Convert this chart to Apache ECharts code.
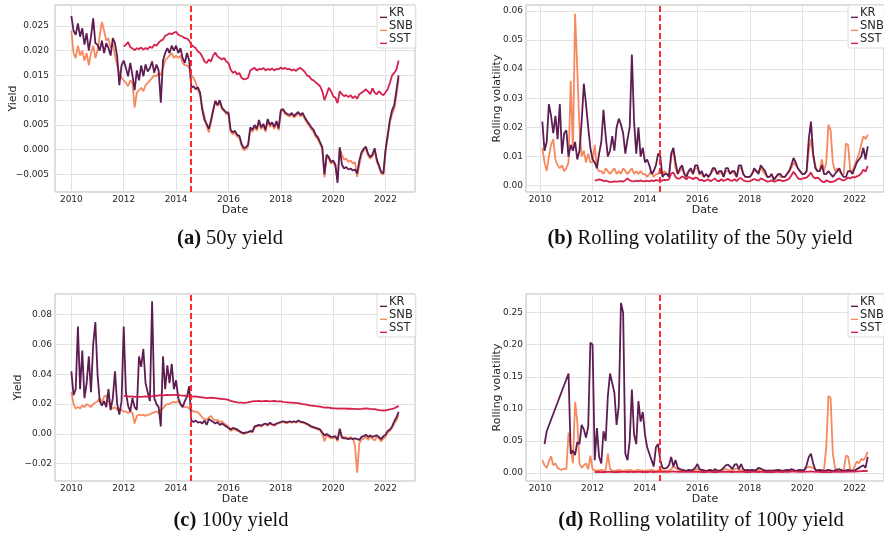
<!DOCTYPE html>
<html><head><meta charset="utf-8">
<script src="https://cdn.jsdelivr.net/npm/echarts@6/dist/echarts.min.js"></script>
<style>html,body{margin:0;padding:0;background:#fff}#c{width:884px;height:543px}</style>
</head><body><div id="c"></div>
<script>
// Monthly samples, January 2010 .. July 2022 (151 points)
const START_YEAR = 2010;
const N = 151;
const BREAK_YEAR = 2014.55;
const YEAR_TICKS = [2010, 2012, 2014, 2016, 2018, 2020, 2022];
const Y_TICKS_A = [-0.005, 0, 0.005, 0.01, 0.015, 0.02, 0.025];
const Y_TICKS_B = [0, 0.01, 0.02, 0.03, 0.04, 0.05, 0.06];
const Y_TICKS_C = [-0.02, 0, 0.02, 0.04, 0.06, 0.08];
const Y_TICKS_D = [0, 0.05, 0.1, 0.15, 0.2, 0.25];
const NAMES = ['KR', 'SNB', 'SST'];
const COLORS = ['#5e1d52', '#f6895e', '#d6204c'];

// (a) 50y yield
const KR_50Y = [
0.0270,0.0240,0.0232,0.0255,0.0228,0.0245,0.0212,0.0235,0.0200,0.0228,0.0265,0.0215,
0.0212,0.0200,0.0220,0.0195,0.0215,0.0205,0.0190,0.0225,0.0215,0.0188,0.0130,0.0170,
0.0180,0.0165,0.0148,0.0175,0.0150,0.0120,0.0160,0.0140,0.0170,0.0148,0.0172,0.0158,
0.0165,0.0178,0.0155,0.0172,0.0160,0.0095,0.0180,0.0195,0.0205,0.0195,0.0210,0.0200,
0.0210,0.0195,0.0205,0.0185,0.0175,0.0195,0.0180,0.0125,0.0128,0.0122,0.0126,0.0115,
0.0080,0.0060,0.0052,0.0042,0.0060,0.0080,0.0098,0.0090,0.0100,0.0085,0.0080,0.0075,
0.0075,0.0040,0.0035,0.0038,0.0030,0.0028,0.0012,0.0003,0.0005,0.0010,0.0045,0.0040,
0.0050,0.0042,0.0060,0.0045,0.0052,0.0040,0.0062,0.0050,0.0055,0.0046,0.0058,0.0043,
0.0080,0.0082,0.0075,0.0072,0.0070,0.0074,0.0068,0.0072,0.0076,0.0070,0.0074,0.0065,
0.0058,0.0052,0.0045,0.0040,0.0030,0.0025,0.0015,0.0005,-0.0050,-0.0010,-0.0015,-0.0025,
-0.0022,-0.0030,-0.0067,0.0005,-0.0030,-0.0038,-0.0035,-0.0040,-0.0038,-0.0042,-0.0040,-0.0048,
-0.0022,-0.0005,0.0002,0.0006,-0.0008,-0.0015,-0.0010,0.0003,-0.0020,-0.0032,-0.0045,-0.0048,
0.0000,0.0030,0.0060,0.0080,0.0090,0.0120,0.0150];
const SNB_50Y = [
0.0240,0.0195,0.0185,0.0210,0.0190,0.0200,0.0180,0.0195,0.0170,0.0195,0.0210,0.0185,
0.0200,0.0230,0.0258,0.0240,0.0220,0.0225,0.0205,0.0215,0.0190,0.0170,0.0155,0.0145,
0.0140,0.0135,0.0128,0.0140,0.0135,0.0085,0.0115,0.0120,0.0125,0.0118,0.0130,0.0135,
0.0140,0.0145,0.0150,0.0148,0.0155,0.0150,0.0165,0.0180,0.0185,0.0190,0.0195,0.0185,
0.0190,0.0185,0.0190,0.0175,0.0170,0.0170,0.0165,0.0150,0.0145,0.0135,0.0120,0.0110,
0.0085,0.0068,0.0048,0.0035,0.0055,0.0078,0.0100,0.0088,0.0095,0.0082,0.0078,0.0072,
0.0072,0.0036,0.0031,0.0034,0.0026,0.0024,0.0008,-0.0001,0.0001,0.0006,0.0040,0.0036,
0.0046,0.0038,0.0056,0.0041,0.0048,0.0036,0.0058,0.0046,0.0051,0.0042,0.0054,0.0039,
0.0077,0.0079,0.0072,0.0069,0.0067,0.0071,0.0065,0.0069,0.0073,0.0067,0.0071,0.0062,
0.0054,0.0048,0.0041,0.0036,0.0026,0.0021,0.0011,0.0001,-0.0056,-0.0014,-0.0019,-0.0028,
-0.0025,-0.0033,-0.0060,0.0002,-0.0010,-0.0020,-0.0018,-0.0025,-0.0022,-0.0028,-0.0025,-0.0055,
-0.0030,-0.0010,-0.0002,0.0002,-0.0012,-0.0018,-0.0014,-0.0001,-0.0024,-0.0036,-0.0048,-0.0050,
-0.0005,0.0025,0.0055,0.0072,0.0082,0.0110,0.0145];
const SST_50Y = [
null,null,null,null,null,null,null,null,null,null,null,null,
null,null,null,null,null,null,null,null,null,null,null,null,
0.0208,0.0212,0.0217,0.0207,0.0204,0.0201,0.0205,0.0203,0.0206,0.0202,0.0205,0.0203,
0.0208,0.0205,0.0212,0.0210,0.0216,0.0220,0.0222,0.0230,0.0232,0.0235,0.0233,0.0236,
0.0238,0.0232,0.0230,0.0228,0.0225,0.0224,0.0220,0.0212,0.0208,0.0205,0.0198,0.0195,
0.0188,0.0178,0.0175,0.0182,0.0178,0.0190,0.0196,0.0188,0.0185,0.0182,0.0185,0.0178,
0.0175,0.0162,0.0155,0.0158,0.0152,0.0155,0.0145,0.0142,0.0143,0.0145,0.0160,0.0163,
0.0165,0.0160,0.0163,0.0162,0.0165,0.0160,0.0163,0.0161,0.0164,0.0160,0.0163,0.0162,
0.0166,0.0163,0.0165,0.0162,0.0163,0.0160,0.0162,0.0159,0.0163,0.0165,0.0161,0.0157,
0.0150,0.0148,0.0142,0.0140,0.0136,0.0132,0.0128,0.0118,0.0100,0.0112,0.0125,0.0118,
0.0108,0.0105,0.0094,0.0118,0.0112,0.0108,0.0110,0.0106,0.0110,0.0104,0.0108,0.0103,
0.0112,0.0115,0.0118,0.0122,0.0117,0.0112,0.0124,0.0115,0.0112,0.0118,0.0113,0.0110,
0.0116,0.0122,0.0135,0.0150,0.0155,0.0162,0.0180];

// (b) rolling volatility of the 50y yield
const KR_VOL50 = [
null,0.022,0.012,0.015,0.028,0.024,0.018,0.024,0.016,0.028,0.011,0.018,
0.019,0.010,0.014,0.012,0.015,0.009,0.012,0.022,0.035,0.028,0.020,0.013,
0.009,0.008,0.006,0.011,0.015,0.026,0.017,0.010,0.012,0.017,0.012,0.020,
0.023,0.021,0.018,0.011,0.016,0.020,0.045,0.022,0.011,0.020,0.010,0.013,
0.008,0.009,0.007,0.004,0.005,0.007,0.011,0.010,0.003,0.004,0.004,0.003,
0.011,0.013,0.008,0.004,0.006,0.007,0.004,0.003,0.005,0.006,0.004,0.007,
0.007,0.004,0.005,0.003,0.004,0.003,0.004,0.006,0.006,0.004,0.005,0.005,
0.003,0.006,0.006,0.004,0.005,0.005,0.003,0.007,0.007,0.004,0.003,0.003,
0.003,0.004,0.006,0.005,0.004,0.007,0.006,0.005,0.003,0.003,0.004,0.002,
0.003,0.004,0.004,0.003,0.003,0.004,0.005,0.007,0.0095,0.008,0.006,0.005,
0.004,0.004,0.005,0.016,0.022,0.011,0.006,0.005,0.005,0.007,0.004,0.004,
0.005,0.004,0.003,0.004,0.005,0.006,0.004,0.003,0.003,0.005,0.005,0.004,
0.006,0.008,0.009,0.010,0.013,0.009,0.0135];
const SNB_VOL50 = [
null,0.013,0.008,0.005,0.010,0.014,0.016,0.009,0.007,0.006,0.007,0.005,
0.006,0.008,0.036,0.012,0.059,0.040,0.020,0.010,0.012,0.008,0.011,0.008,
0.008,0.014,0.006,0.005,0.005,0.004,0.006,0.005,0.004,0.005,0.006,0.004,
0.005,0.004,0.006,0.005,0.004,0.005,0.006,0.004,0.005,0.004,0.005,0.004,
0.004,0.003,0.004,0.005,0.003,0.004,0.004,0.006,0.004,0.005,0.004,0.004,
0.010,0.012,0.006,0.004,0.005,0.006,0.004,0.004,0.005,0.005,0.004,0.006,
0.006,0.004,0.004,0.003,0.004,0.003,0.004,0.005,0.006,0.004,0.004,0.005,
0.003,0.005,0.005,0.004,0.005,0.004,0.003,0.006,0.006,0.004,0.003,0.003,
0.003,0.004,0.005,0.005,0.005,0.006,0.005,0.004,0.003,0.003,0.004,0.002,
0.003,0.004,0.003,0.003,0.003,0.004,0.005,0.006,0.008,0.007,0.006,0.005,
0.004,0.004,0.005,0.012,0.016,0.010,0.007,0.005,0.005,0.009,0.005,0.008,
0.021,0.019,0.008,0.005,0.006,0.005,0.004,0.004,0.0145,0.014,0.005,0.005,
0.007,0.009,0.011,0.014,0.017,0.016,0.0175];
const SST_VOL50 = [
null,null,null,null,null,null,null,null,null,null,null,null,
null,null,null,null,null,null,null,null,null,null,null,null,
null,0.0018,0.0019,0.0022,0.0020,0.0016,0.0017,0.0015,0.0012,0.0013,0.0015,0.0014,
0.0015,0.0016,0.0014,0.0019,0.0025,0.0018,0.0016,0.0015,0.0017,0.0016,0.0018,0.0015,
0.0016,0.0017,0.0015,0.0018,0.0016,0.0019,0.0018,0.0016,0.0018,0.0020,0.0019,0.0022,
0.0042,0.0045,0.0030,0.0024,0.0025,0.0032,0.0028,0.0022,0.0030,0.0027,0.0022,0.0028,
0.0026,0.0018,0.0020,0.0016,0.0018,0.0022,0.0015,0.0020,0.0025,0.0017,0.0016,0.0022,
0.0016,0.0020,0.0024,0.0018,0.0017,0.0022,0.0016,0.0024,0.0026,0.0018,0.0016,0.0015,
0.0016,0.0019,0.0023,0.0020,0.0017,0.0025,0.0022,0.0018,0.0014,0.0015,0.0018,0.0014,
0.0016,0.0020,0.0019,0.0016,0.0017,0.0020,0.0024,0.0035,0.0048,0.0038,0.0026,0.0022,
0.0024,0.0026,0.0028,0.0035,0.0045,0.0030,0.0025,0.0028,0.0022,0.0015,0.0012,0.0018,
0.0015,0.0012,0.0014,0.0016,0.0022,0.0025,0.0020,0.0018,0.0022,0.0028,0.0025,0.0030,
0.0028,0.0032,0.0035,0.0042,0.0055,0.0048,0.0068];

// (c) 100y yield
const KR_100Y = [
0.042,0.026,0.030,0.072,0.030,0.056,0.024,0.034,0.052,0.028,0.060,0.075,
0.040,0.022,0.019,0.022,0.018,0.030,0.016,0.024,0.042,0.020,0.013,0.022,
0.072,0.028,0.019,0.015,0.024,0.018,0.016,0.052,0.045,0.057,0.034,0.028,
0.022,0.089,0.024,0.020,0.018,0.005,0.052,0.030,0.046,0.034,0.047,0.030,
0.036,0.024,0.020,0.018,0.022,0.025,0.032,0.009,0.008,0.009,0.0075,0.008,
0.007,0.009,0.006,0.010,0.009,0.008,0.007,0.008,0.006,0.007,0.006,0.005,
0.004,0.003,0.004,0.0035,0.003,0.002,0.001,0.0005,0.001,0.0012,0.002,0.0015,
0.005,0.0055,0.006,0.0055,0.0065,0.007,0.006,0.0075,0.0065,0.006,0.007,0.0075,
0.008,0.0085,0.008,0.0078,0.0085,0.008,0.0085,0.008,0.009,0.0083,0.008,0.0075,
0.0068,0.006,0.005,0.0045,0.004,0.0035,0.003,0.001,-0.001,0.000,-0.001,-0.002,
-0.002,-0.0015,-0.004,0.0035,-0.002,-0.003,-0.003,-0.0035,-0.003,-0.0035,-0.003,-0.0035,
-0.004,-0.002,-0.0015,-0.0005,-0.002,-0.001,-0.002,-0.0015,-0.001,-0.002,-0.0035,-0.0015,
-0.0005,0.002,0.003,0.005,0.0085,0.011,0.0148];
const SNB_100Y = [
0.028,0.020,0.017,0.018,0.017,0.019,0.018,0.020,0.019,0.018,0.020,0.021,
0.022,0.024,0.021,0.025,0.026,0.022,0.018,0.017,0.018,0.016,0.017,0.016,
0.015,0.015,0.014,0.015,0.014,0.007,0.012,0.013,0.0125,0.013,0.012,0.013,
0.013,0.014,0.0145,0.015,0.014,0.016,0.017,0.019,0.020,0.020,0.021,0.0215,
0.021,0.022,0.020,0.019,0.018,0.018,0.017,0.016,0.015,0.015,0.0145,0.013,
0.011,0.010,0.0095,0.011,0.012,0.010,0.009,0.0095,0.008,0.0085,0.007,0.006,
0.005,0.002,0.003,0.003,0.002,0.0015,0.0005,0.000,0.0005,0.001,0.0015,0.001,
0.0045,0.005,0.0055,0.005,0.006,0.0065,0.0055,0.007,0.006,0.0055,0.0065,0.007,
0.0075,0.008,0.0075,0.0073,0.008,0.0075,0.008,0.0075,0.0085,0.0078,0.0075,0.007,
0.0062,0.0055,0.0045,0.004,0.0035,0.003,0.0025,0.000,-0.005,-0.001,-0.002,-0.003,
-0.003,-0.002,-0.005,0.002,-0.003,-0.002,-0.0025,-0.003,-0.002,-0.003,-0.008,-0.026,
-0.006,-0.004,-0.003,-0.002,-0.004,-0.002,-0.003,-0.0045,-0.002,-0.003,-0.005,-0.003,
-0.002,0.001,0.002,0.004,0.007,0.009,0.013];
const SST_100Y = [
null,null,null,null,null,null,null,null,null,null,null,null,
null,null,null,null,null,null,null,null,null,null,null,null,
0.0255,0.0253,0.0252,0.0250,0.0251,0.0249,0.0250,0.0248,0.0249,0.0250,0.0251,0.0250,
0.0252,0.0253,0.0255,0.0256,0.0258,0.0260,0.0258,0.0260,0.0262,0.0260,0.0261,0.0262,
0.0262,0.0260,0.0258,0.0257,0.0256,0.0255,0.0254,0.0252,0.0250,0.0251,0.0249,0.0247,
0.0245,0.0243,0.0240,0.0242,0.0244,0.0242,0.0240,0.0238,0.0236,0.0235,0.0234,0.0232,
0.0228,0.0222,0.0218,0.0215,0.0212,0.0210,0.0210,0.0208,0.0210,0.0212,0.0215,0.0218,
0.0220,0.0220,0.0221,0.0219,0.0220,0.0221,0.0220,0.0219,0.0220,0.0221,0.0219,0.0218,
0.0218,0.0215,0.0213,0.0212,0.0210,0.0210,0.0209,0.0208,0.0206,0.0203,0.0200,0.0198,
0.0196,0.0192,0.0190,0.0188,0.0186,0.0185,0.0183,0.0180,0.0176,0.0178,0.0176,0.0174,
0.0172,0.0171,0.0170,0.0172,0.0170,0.0171,0.0169,0.0170,0.0169,0.0168,0.0168,0.0166,
0.0167,0.0168,0.0170,0.0171,0.0170,0.0168,0.0167,0.0166,0.0163,0.0160,0.0158,0.0157,
0.0158,0.0162,0.0165,0.0168,0.0172,0.0180,0.0188];

// (d) rolling volatility of the 100y yield
const KR_VOL100 = [
null,null,0.045,0.065,null,null,null,null,null,null,null,null,
null,0.155,0.030,0.035,0.028,0.048,0.045,0.075,0.068,0.055,0.072,0.203,
0.200,0.020,0.070,0.025,0.015,0.065,0.050,0.120,0.155,0.140,0.125,0.075,
0.105,0.265,0.250,0.030,0.020,0.050,0.130,0.060,0.045,0.112,0.080,0.095,
0.060,0.040,0.030,0.020,0.010,0.040,0.045,0.020,0.008,0.007,0.008,0.012,
0.025,0.010,0.020,0.008,0.006,0.005,0.004,0.003,0.005,0.004,0.005,0.008,
0.014,0.006,0.005,0.004,0.003,0.004,0.005,0.003,0.006,0.004,0.003,0.005,
0.008,0.012,0.013,0.010,0.006,0.013,0.014,0.006,0.014,0.006,0.004,0.005,
0.004,0.005,0.004,0.005,0.008,0.007,0.005,0.004,0.003,0.004,0.003,0.004,
0.004,0.005,0.004,0.003,0.004,0.005,0.004,0.006,0.005,0.003,0.004,0.005,
0.004,0.005,0.012,0.025,0.030,0.015,0.005,0.004,0.005,0.004,0.003,0.004,
0.005,0.004,0.003,0.004,0.005,0.006,0.004,0.003,0.004,0.005,0.004,0.003,
0.004,0.006,0.008,0.010,0.012,0.008,0.025];
const SNB_VOL100 = [
null,0.020,0.012,0.008,0.018,0.026,0.012,0.015,0.008,0.006,0.005,0.007,
0.006,0.063,0.040,0.015,0.111,0.080,0.015,0.008,0.012,0.015,0.006,0.027,
0.006,0.004,0.004,0.004,0.005,0.004,0.004,0.030,0.006,0.004,0.003,0.004,
0.005,0.004,0.003,0.004,0.004,0.005,0.004,0.003,0.004,0.005,0.004,0.004,
0.003,0.004,0.004,0.005,0.004,0.003,0.004,0.005,0.004,0.004,0.003,0.004,
0.006,0.010,0.008,0.005,0.004,0.003,0.004,0.003,0.004,0.003,0.004,0.005,
0.006,0.004,0.003,0.004,0.003,0.004,0.005,0.003,0.004,0.003,0.004,0.003,
0.005,0.006,0.005,0.004,0.003,0.006,0.007,0.004,0.005,0.003,0.004,0.003,
0.004,0.003,0.004,0.005,0.004,0.006,0.004,0.003,0.004,0.003,0.004,0.003,
0.004,0.004,0.003,0.004,0.003,0.004,0.005,0.004,0.004,0.003,0.004,0.005,
0.004,0.005,0.008,0.010,0.009,0.008,0.005,0.004,0.003,0.004,0.006,0.040,
0.120,0.117,0.030,0.008,0.005,0.004,0.005,0.004,0.027,0.026,0.005,0.004,
0.010,0.018,0.015,0.022,0.020,0.025,0.033];
const SST_VOL100 = [
null,null,null,null,null,null,null,null,null,null,null,null,
null,null,null,null,null,null,null,null,null,null,null,null,
null,0.0015,0.0016,0.0015,0.0014,0.0016,0.0015,0.0017,0.0016,0.0015,0.0014,0.0016,
0.0015,0.0016,0.0018,0.0016,0.0015,0.0017,0.0016,0.0015,0.0016,0.0018,0.0016,0.0015,
0.0016,0.0015,0.0017,0.0016,0.0015,0.0016,0.0018,0.0017,0.0016,0.0018,0.0017,0.0019,
0.0022,0.0024,0.0020,0.0018,0.0017,0.0019,0.0018,0.0016,0.0018,0.0017,0.0016,0.0018,
0.0017,0.0016,0.0015,0.0016,0.0015,0.0017,0.0016,0.0015,0.0016,0.0015,0.0016,0.0017,
0.0016,0.0017,0.0018,0.0016,0.0015,0.0017,0.0016,0.0018,0.0017,0.0016,0.0015,0.0016,
0.0015,0.0016,0.0017,0.0016,0.0015,0.0017,0.0016,0.0015,0.0014,0.0015,0.0016,0.0015,
0.0016,0.0017,0.0016,0.0015,0.0016,0.0017,0.0018,0.0020,0.0022,0.0020,0.0018,0.0017,
0.0018,0.0019,0.0020,0.0022,0.0024,0.0020,0.0018,0.0017,0.0016,0.0015,0.0014,0.0015,
0.0014,0.0015,0.0016,0.0017,0.0018,0.0019,0.0018,0.0017,0.0018,0.0020,0.0021,0.0022,
0.0023,0.0025,0.0026,0.0028,0.0032,0.0030,0.0035];

const X = [];
for (let i = 0; i < N; i++) X.push(START_YEAR + i / 12);
const pairs = arr => arr.map((v, i) => [X[i], v]);

const TXT = '#262626';
const SANS = 'DejaVu Sans';
const SERIF = 'Liberation Serif';

const GRIDS = [
  {left: 55, top: 5, width: 360, height: 187},
  {left: 526, top: 5, width: 358, height: 187},
  {left: 55, top: 294, width: 360, height: 187},
  {left: 526, top: 294, width: 358, height: 187}
];
const X_RANGES = [[2009.375, 2023.125], [2009.46, 2023.12], [2009.375, 2023.125], [2009.46, 2023.12]];
const Y_SPECS = [
  {min: -0.00854, max: 0.0292, ticks: Y_TICKS_A, dec: 3, name: 'Yield', nameX: 13, margin: 6},
  {min: -0.00216, max: 0.062, ticks: Y_TICKS_B, dec: 2, name: 'Rolling volatility', nameX: 497.5, margin: 3},
  {min: -0.0316, max: 0.0939, ticks: Y_TICKS_C, dec: 2, name: 'Yield', nameX: 18, margin: 3},
  {min: -0.0125, max: 0.279, ticks: Y_TICKS_D, dec: 2, name: 'Rolling volatility', nameX: 497.5, margin: 3}
];
const PANEL_DATA = [
  [KR_50Y, SNB_50Y, SST_50Y],
  [KR_VOL50, SNB_VOL50, SST_VOL50],
  [KR_100Y, SNB_100Y, SST_100Y],
  [KR_VOL100, SNB_VOL100, SST_VOL100]
];
const LEGEND_POS = [[377, 5], [848, 5], [377, 294], [848, 294]];
const CAPTIONS = [
  ['(a)', '50y yield', 230, 239],
  ['(b)', 'Rolling volatility of the 50y yield', 700, 239],
  ['(c)', '100y yield', 231, 521],
  ['(d)', 'Rolling volatility of 100y yield', 701, 521]
];

const fmtY = d => v => (v < 0 ? '\u2212' : '') + Math.abs(v).toFixed(d);

const grid = GRIDS.map(g => Object.assign({show: true, borderColor: '#bdbdbd', borderWidth: 1, backgroundColor: '#fff'}, g));
const xAxis = X_RANGES.map((r, k) => ({
  type: 'value', gridIndex: k, min: r[0], max: r[1],
  name: 'Date', nameLocation: 'middle', nameGap: 12,
  nameTextStyle: {fontFamily: SANS, fontSize: 11, color: TXT},
  axisLine: {show: false},
  axisTick: {show: false, customValues: YEAR_TICKS},
  axisLabel: {customValues: YEAR_TICKS, fontFamily: SANS, fontSize: 9, color: TXT, margin: 3, formatter: v => String(Math.round(v))},
  splitLine: {show: true, lineStyle: {color: '#e2e2e2', width: 1}}
}));
const yAxis = Y_SPECS.map((s, k) => ({
  type: 'value', gridIndex: k, min: s.min, max: s.max,
  axisLine: {show: false},
  axisTick: {show: false, customValues: s.ticks},
  axisLabel: {customValues: s.ticks, fontFamily: SANS, fontSize: 9, color: TXT, margin: s.margin, formatter: fmtY(s.dec)},
  splitLine: {show: true, lineStyle: {color: '#e2e2e2', width: 1}}
}));

const series = [];
PANEL_DATA.forEach((arrs, k) => {
  const order = [1, 0, 2]; // SNB first, KR over it, SST on top
  order.forEach(j => {
    const s = {
      type: 'line', name: NAMES[j], xAxisIndex: k, yAxisIndex: k,
      data: pairs(arrs[j]), showSymbol: false, symbol: 'none',
      connectNulls: (k === 3 && j === 0),
      lineStyle: {color: COLORS[j], width: 1.8},
      itemStyle: {color: COLORS[j]},
      z: 2 + order.indexOf(j), animation: false, silent: true
    };
    if (j === 2) {
      s.markLine = {
        silent: true, symbol: ['none', 'none'], animation: false,
        label: {show: false},
        lineStyle: {color: '#ff2b2b', type: [6, 3], width: 2},
        data: [{xAxis: BREAK_YEAR}]
      };
    }
    series.push(s);
  });
});

const legend = LEGEND_POS.map(p => ({
  left: p[0], top: p[1], orient: 'vertical', data: NAMES,
  itemWidth: 7, itemHeight: 13, itemGap: 0, padding: [2, 3, 2, 3],
  icon: 'path://M0,0M0,11L10,11L10,13L0,13Z',
  itemStyle: {borderWidth: 0},
  backgroundColor: 'rgba(255,255,255,0.85)', borderColor: '#dcdcdc', borderWidth: 1, borderRadius: 2,
  textStyle: {fontFamily: SANS, fontSize: 11.5, color: TXT, padding: [0, 0, 0, -3], lineHeight: 13},
  selectedMode: false
}));

const graphic = CAPTIONS.map(c => ({
  type: 'text', x: c[2], y: c[3],
  style: {
    text: '{b|' + c[0] + '} ' + c[1],
    fontFamily: SERIF, fontSize: 20.5, fill: '#111',
    textAlign: 'center', textVerticalAlign: 'middle',
    rich: {b: {fontFamily: SERIF, fontSize: 20.5, fontWeight: 'bold', fill: '#111'}}
  }
}));
// rotated y-axis titles, centred on each plot's vertical middle
Y_SPECS.forEach((s, k) => {
  graphic.push({
    type: 'text', x: s.nameX, y: GRIDS[k].top + GRIDS[k].height / 2, rotation: Math.PI / 2,
    style: {text: s.name, fontFamily: SANS, fontSize: 11, fill: TXT, textAlign: 'center', textVerticalAlign: 'middle'}
  });
});

const chart = echarts.init(document.getElementById('c'), null, {renderer: 'canvas'});
chart.setOption({animation: false, backgroundColor: '#fff', grid, xAxis, yAxis, series, legend, graphic});
</script></body></html>
